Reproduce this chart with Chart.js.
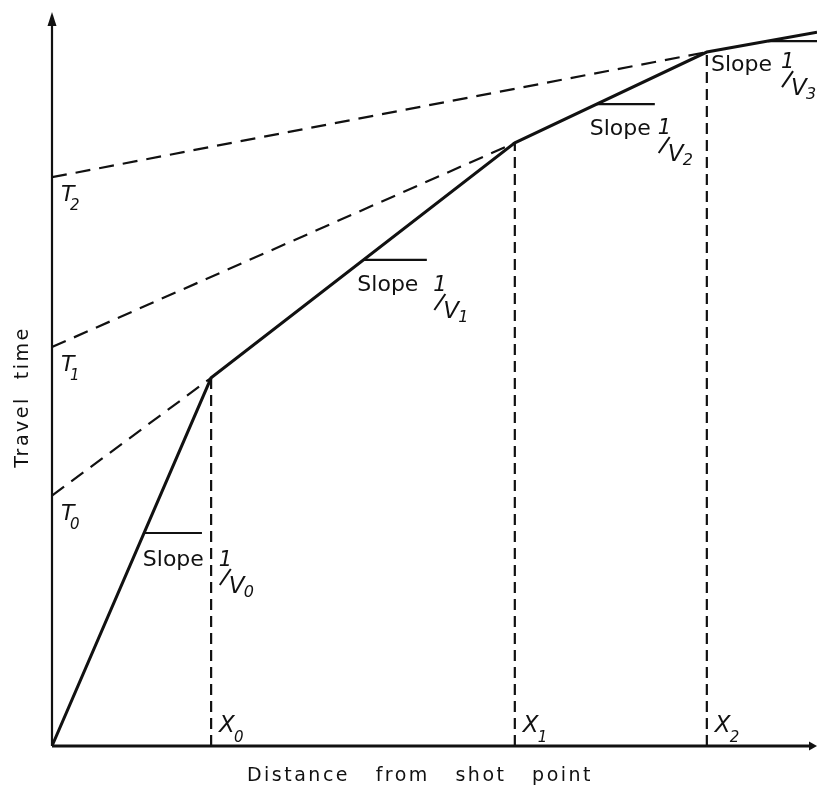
<!DOCTYPE html>
<html>
<head>
<meta charset="utf-8">
<script src="https://cdn.jsdelivr.net/npm/chart.js@4.4.1/dist/chart.umd.min.js"></script>
<style>
  html, body { margin: 0; padding: 0; background: #fff; }
  #wrap { width: 817px; height: 790px; }
</style>
</head>
<body>
<div id="wrap"><canvas id="chart" width="817" height="790"></canvas></div>
<script>
// travel-time curve (distance vs time, arbitrary units 0-100)
const curveX = [0, 20.8, 60.5, 85.6, 100];
const curveY = [0, 50.3, 82.4, 94.8, 97.5];

// intercept times T0, T1, T2 (extensions of the V1, V2, V3 segments)
const interceptT = [34.2, 54.5, 77.7];
const interceptLabels = ['0', '1', '2'];

// crossover distances X0, X1, X2
const crossX = [20.8, 60.5, 85.6];
const crossY = [50.3, 82.4, 94.8];
const crossLabels = ['0', '1', '2'];

// short horizontal "slope" markers on each segment
const slopeMarkY = [29.1, 66.4, 87.7, 96.3];
const slopeMarkX0 = [12.0, 40.7, 71.2, 93.6];
const slopeMarkX1 = [19.6, 49.0, 78.8, 100];
const slopeLabels = ['0', '1', '2', '3'];

const INK = '#111';
const FONT = '"DejaVu Sans", sans-serif';

function seg(x0, y0, x1, y1) {
    return [{ x: x0, y: y0 }, { x: x1, y: y1 }];
}

const datasets = [];
datasets.push({
    label: 'Travel time',
    data: curveX.map((x, i) => ({ x: x, y: curveY[i] })),
    borderColor: INK,
    borderWidth: 3
});
interceptT.forEach((t, i) => {
    datasets.push({
        label: 'T' + interceptLabels[i],
        data: seg(0, t, crossX[i], crossY[i]),
        borderColor: INK,
        borderWidth: 2.2,
        borderDash: [15, 9]
    });
});
crossX.forEach((x, i) => {
    datasets.push({
        label: 'X' + crossLabels[i],
        data: seg(x, 0, x, crossY[i]),
        borderColor: INK,
        borderWidth: 2.2,
        borderDash: [11, 6]
    });
});
slopeMarkY.forEach((y, i) => {
    datasets.push({
        label: 'Slope ' + slopeLabels[i],
        data: seg(slopeMarkX0[i], y, slopeMarkX1[i], y),
        borderColor: INK,
        borderWidth: 2.2
    });
});

// label offsets in pixels from their anchors
const slopeText = [
    { dx: -1, dy: 33, fx: 75, fy: 33 },
    { dx: -6, dy: 31, fx: 70, fy: 31 },
    { dx: -7, dy: 31, fx: 61, fy: 30 },
    { dx: -57, dy: 30, fx: 9, fy: 27 }
];

function drawFrac(ctx, x, y, sub) {
    ctx.font = 'italic 21px ' + FONT;
    ctx.fillText('1', x, y);
    ctx.lineWidth = 2;
    ctx.beginPath();
    ctx.moveTo(x + 1, y + 19);
    ctx.lineTo(x + 12, y + 3);
    ctx.stroke();
    ctx.font = 'italic 23px ' + FONT;
    ctx.fillText('V', x + 10, y + 27);
    ctx.font = 'italic 16px ' + FONT;
    ctx.fillText(sub, x + 25, y + 31);
}

const sketchPlugin = {
    id: 'sketch',
    beforeDatasetsDraw(chart) {
        const { ctx, chartArea: a } = chart;
        ctx.save();
        ctx.strokeStyle = INK;
        ctx.fillStyle = INK;
        ctx.lineWidth = 2.2;
        ctx.beginPath();
        ctx.moveTo(a.left, a.bottom);
        ctx.lineTo(a.left, a.top + 4);
        ctx.stroke();
        ctx.lineWidth = 2.8;
        ctx.beginPath();
        ctx.moveTo(a.left, a.bottom);
        ctx.lineTo(a.right - 4, a.bottom);
        ctx.stroke();
        // arrowheads
        ctx.beginPath();
        ctx.moveTo(a.left, a.top - 2);
        ctx.lineTo(a.left - 4.5, a.top + 12);
        ctx.lineTo(a.left + 4.5, a.top + 12);
        ctx.closePath();
        ctx.fill();
        ctx.beginPath();
        ctx.moveTo(a.right, a.bottom);
        ctx.lineTo(a.right - 8, a.bottom - 4.5);
        ctx.lineTo(a.right - 8, a.bottom + 4.5);
        ctx.closePath();
        ctx.fill();
        ctx.restore();
    },
    afterDraw(chart) {
        const { ctx, scales } = chart;
        const xs = scales.x, ys = scales.y;
        ctx.save();
        ctx.fillStyle = INK;
        ctx.strokeStyle = INK;
        ctx.textBaseline = 'alphabetic';
        ctx.textAlign = 'left';

        // T labels on the time axis
        interceptT.forEach((t, i) => {
            const px = xs.getPixelForValue(0), py = ys.getPixelForValue(t);
            ctx.font = 'italic 22px ' + FONT;
            ctx.fillText('T', px + 9, py + 24);
            ctx.font = 'italic 15px ' + FONT;
            ctx.fillText(interceptLabels[i], px + 18, py + 33);
        });

        // X labels on the distance axis
        crossX.forEach((x, i) => {
            const px = xs.getPixelForValue(x), py = ys.getPixelForValue(0);
            ctx.font = 'italic 23px ' + FONT;
            ctx.fillText('X', px + 8, py - 14);
            ctx.font = 'italic 15px ' + FONT;
            ctx.fillText(crossLabels[i], px + 23, py - 4);
        });

        // slope labels
        slopeMarkY.forEach((y, i) => {
            const px = xs.getPixelForValue(slopeMarkX0[i]), py = ys.getPixelForValue(y);
            const o = slopeText[i];
            ctx.font = '22px ' + FONT;
            ctx.fillText('Slope', px + o.dx, py + o.dy);
            const sx = i === 3 ? px + o.dx + 61 + o.fx : px + o.fx;
            drawFrac(ctx, sx, py + o.fy, slopeLabels[i]);
        });

        // axis titles
        ctx.font = '19px ' + FONT;
        ctx.letterSpacing = '2.5px';
        ctx.textAlign = 'center';
        ctx.textBaseline = 'middle';
        ctx.fillText('Distance   from   shot   point', 420, 776);
        ctx.translate(23, 397);
        ctx.rotate(-Math.PI / 2);
        ctx.fillText('Travel  time', 0, 0);
        ctx.restore();
    }
};

new Chart(document.getElementById('chart'), {
    type: 'line',
    data: { datasets: datasets },
    options: {
        responsive: false,
        animation: false,
        devicePixelRatio: 1,
        layout: { padding: { left: 52, right: 0, top: 14, bottom: 44 } },
        elements: { point: { radius: 0 }, line: { tension: 0, fill: false } },
        plugins: { legend: { display: false }, tooltip: { enabled: false } },
        scales: {
            x: { type: 'linear', min: 0, max: 100, display: false },
            y: { type: 'linear', min: 0, max: 100, display: false }
        }
    },
    plugins: [sketchPlugin]
});
</script>
</body>
</html>
